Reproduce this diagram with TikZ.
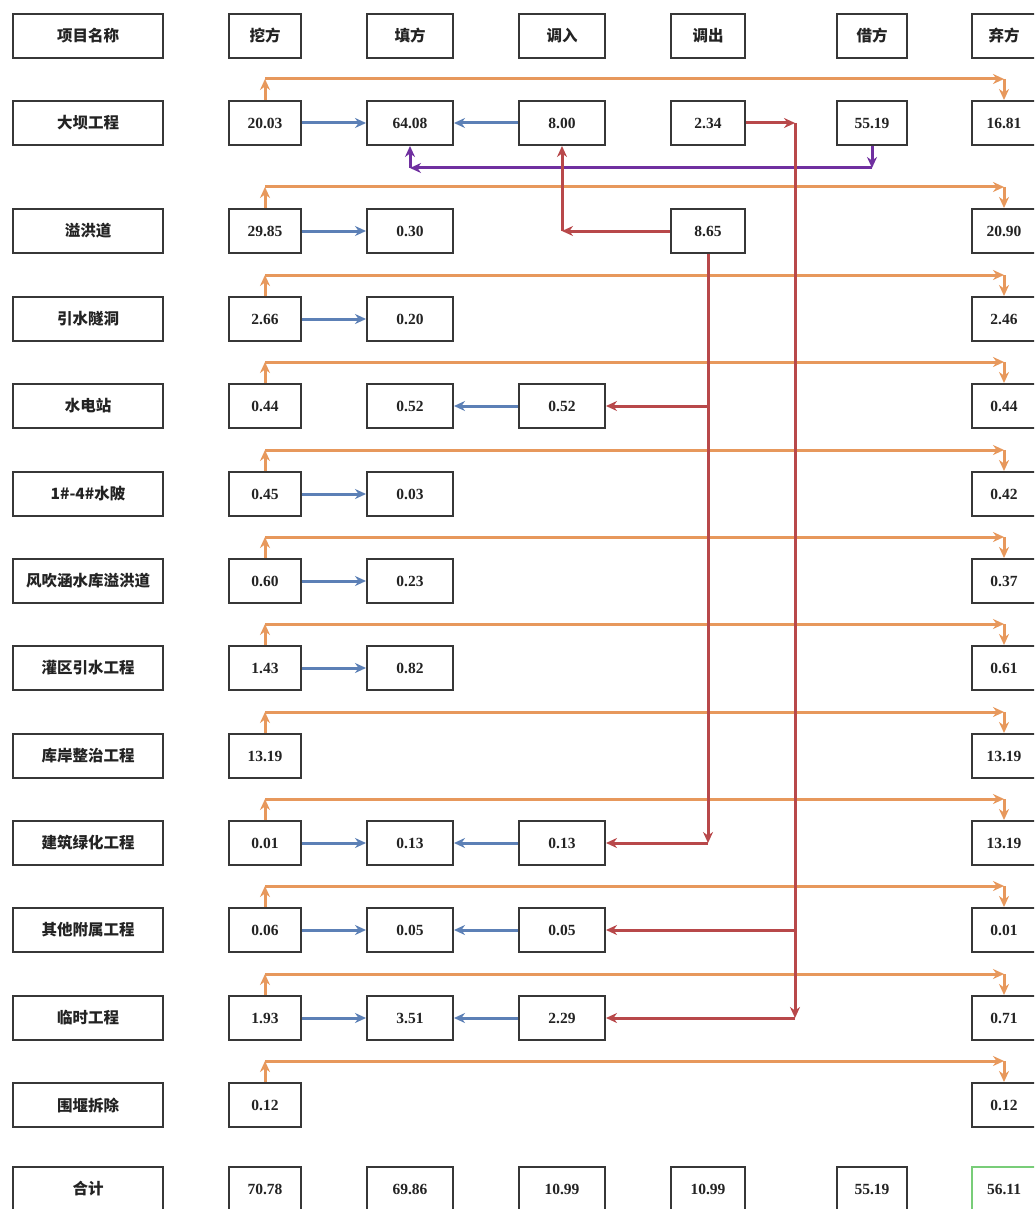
\documentclass[tikz,border=0pt]{standalone}
\usepackage{fontspec}
\setmainfont{Liberation Serif}
\newfontfamily\cjk{Noto Sans CJK SC}
\usetikzlibrary{arrows.meta,calc}
\definecolor{orgc}{RGB}{231,152,92}
\definecolor{bluc}{RGB}{92,128,182}
\definecolor{redc}{RGB}{184,72,74}
\definecolor{purc}{RGB}{112,48,160}
\definecolor{boxc}{RGB}{55,55,55}
\definecolor{txtc}{RGB}{35,35,35}
\definecolor{grnc}{RGB}{120,205,120}
\begin{document}
\begin{tikzpicture}[x=1pt,y=-1pt,
  box/.style={draw=boxc, line width=2pt, minimum height=44pt, inner sep=0pt, text=txtc,
    font=\fontsize{15.5}{18}\selectfont\bfseries},
  cj/.style={font=\cjk\fontsize{15.5}{18}\selectfont\bfseries},
  nb/.style={box,cj,minimum width=150pt},
  wb/.style={box,minimum width=72pt},
  tb/.style={box,minimum width=86pt},
  ib/.style={box,minimum width=86pt},
  ob/.style={box,minimum width=74pt},
  jb/.style={box,minimum width=70pt},
  qb/.style={box,minimum width=64pt},
  conn/.style={line width=3pt, -{Stealth[length=11pt,width=10pt]}},
  orgline/.style={conn, draw=orgc, fill=orgc},
  bluline/.style={conn, draw=bluc, fill=bluc},
  redline/.style={conn, draw=redc, fill=redc},
  purline/.style={conn, draw=purc, fill=purc}
]
\useasboundingbox (0,0) rectangle (1034,1209);
\clip (0,0) rectangle (1034,1209);
\fill[white] (0,0) rectangle (1034,1209);

% header
\node[nb] (n0) at (88,36) {项目名称};
\node[wb,cj] (w0) at (265,36) {挖方};
\node[tb,cj] (t0) at (410,36) {填方};
\node[ib,cj] (i0) at (562,36) {调入};
\node[ob,cj] (o0) at (708,36) {调出};
\node[jb,cj] (j0) at (872,36) {借方};
\node[qb,cj] (q0) at (1004,36) {弃方};

% row 1
\node[nb] (n1) at (88,123) {大坝工程};
\node[wb] (w1) at (265,123) {20.03};
\node[tb] (t1) at (410,123) {64.08};
\node[ib] (i1) at (562,123) {8.00};
\node[ob] (o1) at (708,123) {2.34};
\node[jb] (j1) at (872,123) {55.19};
\node[qb] (q1) at (1004,123) {16.81};

% row 2
\node[nb] (n2) at (88,231) {溢洪道};
\node[wb] (w2) at (265,231) {29.85};
\node[tb] (t2) at (410,231) {0.30};
\node[ob] (o2) at (708,231) {8.65};
\node[qb] (q2) at (1004,231) {20.90};

% row 3
\node[nb] (n3) at (88,319) {引水隧洞};
\node[wb] (w3) at (265,319) {2.66};
\node[tb] (t3) at (410,319) {0.20};
\node[qb] (q3) at (1004,319) {2.46};

% row 4
\node[nb] (n4) at (88,406) {水电站};
\node[wb] (w4) at (265,406) {0.44};
\node[tb] (t4) at (410,406) {0.52};
\node[ib] (i4) at (562,406) {0.52};
\node[qb] (q4) at (1004,406) {0.44};

% row 5
\node[nb] (n5) at (88,494) {1\#-4\#水陂};
\node[wb] (w5) at (265,494) {0.45};
\node[tb] (t5) at (410,494) {0.03};
\node[qb] (q5) at (1004,494) {0.42};

% row 6
\node[nb] (n6) at (88,581) {风吹涵水库溢洪道};
\node[wb] (w6) at (265,581) {0.60};
\node[tb] (t6) at (410,581) {0.23};
\node[qb] (q6) at (1004,581) {0.37};

% row 7
\node[nb] (n7) at (88,668) {灌区引水工程};
\node[wb] (w7) at (265,668) {1.43};
\node[tb] (t7) at (410,668) {0.82};
\node[qb] (q7) at (1004,668) {0.61};

% row 8
\node[nb] (n8) at (88,756) {库岸整治工程};
\node[wb] (w8) at (265,756) {13.19};
\node[qb] (q8) at (1004,756) {13.19};

% row 9
\node[nb] (n9) at (88,843) {建筑绿化工程};
\node[wb] (w9) at (265,843) {0.01};
\node[tb] (t9) at (410,843) {0.13};
\node[ib] (i9) at (562,843) {0.13};
\node[qb] (q9) at (1004,843) {13.19};

% row 10
\node[nb] (n10) at (88,930) {其他附属工程};
\node[wb] (w10) at (265,930) {0.06};
\node[tb] (t10) at (410,930) {0.05};
\node[ib] (i10) at (562,930) {0.05};
\node[qb] (q10) at (1004,930) {0.01};

% row 11
\node[nb] (n11) at (88,1018) {临时工程};
\node[wb] (w11) at (265,1018) {1.93};
\node[tb] (t11) at (410,1018) {3.51};
\node[ib] (i11) at (562,1018) {2.29};
\node[qb] (q11) at (1004,1018) {0.71};

% row 12
\node[nb] (n12) at (88,1105) {围堰拆除};
\node[wb] (w12) at (265,1105) {0.12};
\node[qb] (q12) at (1004,1105) {0.12};

% row 13 totals
\node[nb] (n13) at (88,1189) {合计};
\node[wb] (w13) at (265,1189) {70.78};
\node[tb] (t13) at (410,1189) {69.86};
\node[ib] (i13) at (562,1189) {10.99};
\node[ob] (o13) at (708,1189) {10.99};
\node[jb] (j13) at (872,1189) {55.19};
\node[qb, draw=grnc] (q13) at (1004,1189) {56.11};

% orange: excavation to spoil
\foreach \r in {1,...,12} {
  \coordinate (oa\r) at ($(w\r.north)+(0,-21)$);
  \coordinate (ob\r) at (oa\r -| q\r.north);
  \draw[orgline] (w\r.north) -- (oa\r);
  \draw[orgline] (oa\r) -- (ob\r);
  \draw[orgline] (ob\r) -- (q\r.north);
}

% blue: excavation to fill
\foreach \r in {1,2,3,5,6,7,9,10,11} {
  \draw[bluline] (w\r.east) -- (t\r.west);
}
% blue: transfer-in to fill
\foreach \r in {1,4,9,10,11} {
  \draw[bluline] (i\r.west) -- (t\r.east);
}

% purple: borrow to fill
\coordinate (pa) at ($(j1.south)+(0,22)$);
\coordinate (pb) at (pa -| t1.south);
\draw[purline] (j1.south) -- (pa);
\draw[purline] (pa) -- (pb);
\draw[purline] (pb) -- (t1.south);

% red: 8.65 to 8.00
\coordinate (ra) at (o2.west -| i1.south);
\draw[redline] (o2.west) -- (ra);
\draw[redline] (ra) -- (i1.south);

% red: 8.65 down to 0.52 and 0.13
\coordinate (rb) at (o2.south |- i9.east);
\coordinate (rc) at (o2.south |- i4.east);
\draw[redline] (o2.south) -- (rb);
\draw[redline] (rb) -- (i9.east);
\draw[redline] (rc) -- (i4.east);

% red: 2.34 down to 0.05 and 2.29
\coordinate (rd) at ($(o1.east)+(49,0)$);
\coordinate (re) at (rd |- i11.east);
\coordinate (rf) at (rd |- i10.east);
\draw[redline] (o1.east) -- (rd);
\draw[redline] (rd) -- (re);
\draw[redline] (re) -- (i11.east);
\draw[redline] (rf) -- (i10.east);
\end{tikzpicture}
\end{document}
